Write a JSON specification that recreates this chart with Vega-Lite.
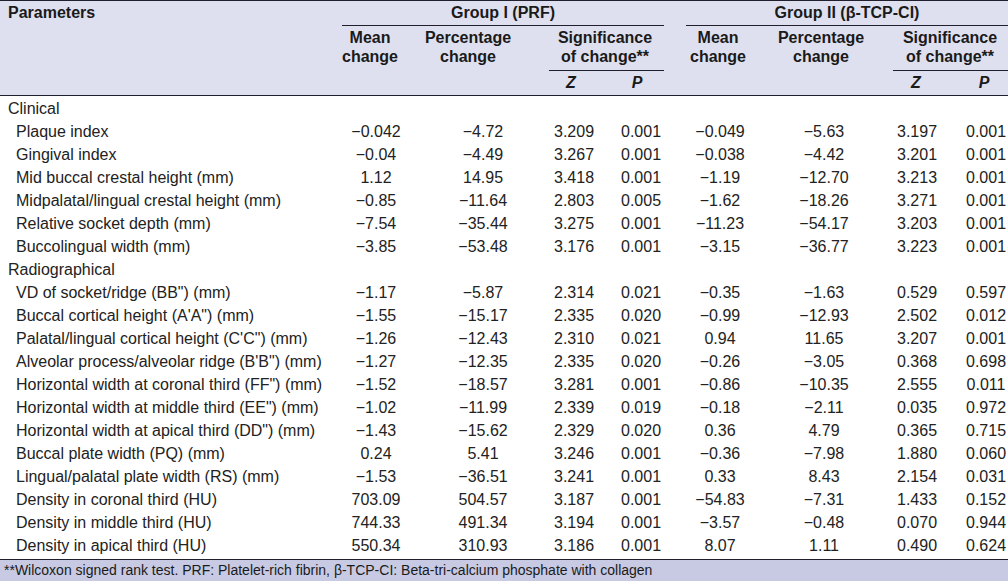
{
  "$schema": "https://vega.github.io/schema/vega-lite/v6.json",
  "padding": 0,
  "background": "#ffffff",
  "spacing": 0,
  "bounds": "full",
  "config": {
    "view": {"stroke": null},
    "concat": {"spacing": 0},
    "text": {"font": "Liberation Sans", "fontSize": 16, "color": "#222222"}
  },
  "datasets": {
    "table": [
      {"param": "Clinical", "level": "category", "g1_mean": "", "g1_pct": "", "g1_z": "", "g1_p": "", "g2_mean": "", "g2_pct": "", "g2_z": "", "g2_p": ""},
      {"param": "Plaque index", "level": "item", "g1_mean": "−0.042", "g1_pct": "−4.72", "g1_z": "3.209", "g1_p": "0.001", "g2_mean": "−0.049", "g2_pct": "−5.63", "g2_z": "3.197", "g2_p": "0.001"},
      {"param": "Gingival index", "level": "item", "g1_mean": "−0.04", "g1_pct": "−4.49", "g1_z": "3.267", "g1_p": "0.001", "g2_mean": "−0.038", "g2_pct": "−4.42", "g2_z": "3.201", "g2_p": "0.001"},
      {"param": "Mid buccal crestal height (mm)", "level": "item", "g1_mean": "1.12", "g1_pct": "14.95", "g1_z": "3.418", "g1_p": "0.001", "g2_mean": "−1.19", "g2_pct": "−12.70", "g2_z": "3.213", "g2_p": "0.001"},
      {"param": "Midpalatal/lingual crestal height (mm)", "level": "item", "g1_mean": "−0.85", "g1_pct": "−11.64", "g1_z": "2.803", "g1_p": "0.005", "g2_mean": "−1.62", "g2_pct": "−18.26", "g2_z": "3.271", "g2_p": "0.001"},
      {"param": "Relative socket depth (mm)", "level": "item", "g1_mean": "−7.54", "g1_pct": "−35.44", "g1_z": "3.275", "g1_p": "0.001", "g2_mean": "−11.23", "g2_pct": "−54.17", "g2_z": "3.203", "g2_p": "0.001"},
      {"param": "Buccolingual width (mm)", "level": "item", "g1_mean": "−3.85", "g1_pct": "−53.48", "g1_z": "3.176", "g1_p": "0.001", "g2_mean": "−3.15", "g2_pct": "−36.77", "g2_z": "3.223", "g2_p": "0.001"},
      {"param": "Radiographical", "level": "category", "g1_mean": "", "g1_pct": "", "g1_z": "", "g1_p": "", "g2_mean": "", "g2_pct": "", "g2_z": "", "g2_p": ""},
      {"param": "VD of socket/ridge (BB\") (mm)", "level": "item", "g1_mean": "−1.17", "g1_pct": "−5.87", "g1_z": "2.314", "g1_p": "0.021", "g2_mean": "−0.35", "g2_pct": "−1.63", "g2_z": "0.529", "g2_p": "0.597"},
      {"param": "Buccal cortical height (A'A\") (mm)", "level": "item", "g1_mean": "−1.55", "g1_pct": "−15.17", "g1_z": "2.335", "g1_p": "0.020", "g2_mean": "−0.99", "g2_pct": "−12.93", "g2_z": "2.502", "g2_p": "0.012"},
      {"param": "Palatal/lingual cortical height (C'C\") (mm)", "level": "item", "g1_mean": "−1.26", "g1_pct": "−12.43", "g1_z": "2.310", "g1_p": "0.021", "g2_mean": "0.94", "g2_pct": "11.65", "g2_z": "3.207", "g2_p": "0.001"},
      {"param": "Alveolar process/alveolar ridge (B'B\") (mm)", "level": "item", "g1_mean": "−1.27", "g1_pct": "−12.35", "g1_z": "2.335", "g1_p": "0.020", "g2_mean": "−0.26", "g2_pct": "−3.05", "g2_z": "0.368", "g2_p": "0.698"},
      {"param": "Horizontal width at coronal third (FF\") (mm)", "level": "item", "g1_mean": "−1.52", "g1_pct": "−18.57", "g1_z": "3.281", "g1_p": "0.001", "g2_mean": "−0.86", "g2_pct": "−10.35", "g2_z": "2.555", "g2_p": "0.011"},
      {"param": "Horizontal width at middle third (EE\") (mm)", "level": "item", "g1_mean": "−1.02", "g1_pct": "−11.99", "g1_z": "2.339", "g1_p": "0.019", "g2_mean": "−0.18", "g2_pct": "−2.11", "g2_z": "0.035", "g2_p": "0.972"},
      {"param": "Horizontal width at apical third (DD\") (mm)", "level": "item", "g1_mean": "−1.43", "g1_pct": "−15.62", "g1_z": "2.329", "g1_p": "0.020", "g2_mean": "0.36", "g2_pct": "4.79", "g2_z": "0.365", "g2_p": "0.715"},
      {"param": "Buccal plate width (PQ) (mm)", "level": "item", "g1_mean": "0.24", "g1_pct": "5.41", "g1_z": "3.246", "g1_p": "0.001", "g2_mean": "−0.36", "g2_pct": "−7.98", "g2_z": "1.880", "g2_p": "0.060"},
      {"param": "Lingual/palatal plate width (RS) (mm)", "level": "item", "g1_mean": "−1.53", "g1_pct": "−36.51", "g1_z": "3.241", "g1_p": "0.001", "g2_mean": "0.33", "g2_pct": "8.43", "g2_z": "2.154", "g2_p": "0.031"},
      {"param": "Density in coronal third (HU)", "level": "item", "g1_mean": "703.09", "g1_pct": "504.57", "g1_z": "3.187", "g1_p": "0.001", "g2_mean": "−54.83", "g2_pct": "−7.31", "g2_z": "1.433", "g2_p": "0.152"},
      {"param": "Density in middle third (HU)", "level": "item", "g1_mean": "744.33", "g1_pct": "491.34", "g1_z": "3.194", "g1_p": "0.001", "g2_mean": "−3.57", "g2_pct": "−0.48", "g2_z": "0.070", "g2_p": "0.944"},
      {"param": "Density in apical third (HU)", "level": "item", "g1_mean": "550.34", "g1_pct": "310.93", "g1_z": "3.186", "g1_p": "0.001", "g2_mean": "8.07", "g2_pct": "1.11", "g2_z": "0.490", "g2_p": "0.624"}
    ]
  },
  "vconcat": [
    {"width": 1008, "height": 1, "view": {"fill": "#1f1f2e", "stroke": null}, "data": {"values": []}, "mark": "text"},
    {"spacing": 0, "bounds": "flush", "hconcat": [
      {"width": 342, "height": 24, "view": {"fill": "#dfe0ef", "stroke": null}, "data": {"values": [{"h": "Parameters"}]},
       "mark": {"type": "text", "fontWeight": "bold", "align": "left", "color": "#1a1a1a"},
       "encoding": {"x": {"field": "h", "type": "nominal", "scale": {"range": [8, 8]}, "axis": null}, "text": {"field": "h", "type": "nominal"}}},
      {"width": 322, "height": 24, "view": {"fill": "#dfe0ef", "stroke": null}, "data": {"values": [{"h": "Group I (PRF)"}]},
       "mark": {"type": "text", "fontWeight": "bold", "color": "#1a1a1a"}, "encoding": {"text": {"field": "h", "type": "nominal"}}},
      {"width": 22, "height": 24, "view": {"fill": "#dfe0ef", "stroke": null}, "data": {"values": []}, "mark": "text"},
      {"width": 322, "height": 24, "view": {"fill": "#dfe0ef", "stroke": null}, "data": {"values": [{"h": "Group II (β-TCP-CI)"}]},
       "mark": {"type": "text", "fontWeight": "bold", "color": "#1a1a1a"}, "encoding": {"text": {"field": "h", "type": "nominal"}}}
    ]},
    {"spacing": 0, "bounds": "flush", "hconcat": [
      {"width": 342, "height": 1, "view": {"fill": "#dfe0ef", "stroke": null}, "data": {"values": []}, "mark": "text"},
      {"width": 322, "height": 1, "view": {"fill": "#1f1f2e", "stroke": null}, "data": {"values": []}, "mark": "text"},
      {"width": 22, "height": 1, "view": {"fill": "#dfe0ef", "stroke": null}, "data": {"values": []}, "mark": "text"},
      {"width": 322, "height": 1, "view": {"fill": "#1f1f2e", "stroke": null}, "data": {"values": []}, "mark": "text"}
    ]},
    {"spacing": 0, "bounds": "flush", "hconcat": [
      {"width": 333, "height": 44, "view": {"fill": "#dfe0ef", "stroke": null}, "data": {"values": []}, "mark": "text"},
      {"width": 74, "height": 44, "view": {"fill": "#dfe0ef", "stroke": null}, "data": {"values": [{"h": "Mean\nchange"}]},
       "mark": {"type": "text", "fontWeight": "bold", "color": "#1a1a1a", "lineBreak": "\n", "lineHeight": 19, "baseline": "line-bottom"}, "encoding": {"text": {"field": "h", "type": "nominal"}}},
      {"width": 122, "height": 44, "view": {"fill": "#dfe0ef", "stroke": null}, "data": {"values": [{"h": "Percentage\nchange"}]},
       "mark": {"type": "text", "fontWeight": "bold", "color": "#1a1a1a", "lineBreak": "\n", "lineHeight": 19, "baseline": "line-bottom"}, "encoding": {"text": {"field": "h", "type": "nominal"}}},
      {"width": 152, "height": 44, "view": {"fill": "#dfe0ef", "stroke": null}, "data": {"values": [{"h": "Significance\nof change**"}]},
       "mark": {"type": "text", "fontWeight": "bold", "color": "#1a1a1a", "lineBreak": "\n", "lineHeight": 19, "baseline": "line-bottom"}, "encoding": {"text": {"field": "h", "type": "nominal"}}},
      {"width": 74, "height": 44, "view": {"fill": "#dfe0ef", "stroke": null}, "data": {"values": [{"h": "Mean\nchange"}]},
       "mark": {"type": "text", "fontWeight": "bold", "color": "#1a1a1a", "lineBreak": "\n", "lineHeight": 19, "baseline": "line-bottom"}, "encoding": {"text": {"field": "h", "type": "nominal"}}},
      {"width": 132, "height": 44, "view": {"fill": "#dfe0ef", "stroke": null}, "data": {"values": [{"h": "Percentage\nchange"}]},
       "mark": {"type": "text", "fontWeight": "bold", "color": "#1a1a1a", "lineBreak": "\n", "lineHeight": 19, "baseline": "line-bottom"}, "encoding": {"text": {"field": "h", "type": "nominal"}}},
      {"width": 5, "height": 44, "view": {"fill": "#dfe0ef", "stroke": null}, "data": {"values": []}, "mark": "text"},
      {"width": 116, "height": 44, "view": {"fill": "#dfe0ef", "stroke": null}, "data": {"values": [{"h": "Significance\nof change**"}]},
       "mark": {"type": "text", "fontWeight": "bold", "color": "#1a1a1a", "lineBreak": "\n", "lineHeight": 19, "baseline": "line-bottom"}, "encoding": {"text": {"field": "h", "type": "nominal"}}}
    ]},
    {"spacing": 0, "bounds": "flush", "hconcat": [
      {"width": 549, "height": 1, "view": {"fill": "#dfe0ef", "stroke": null}, "data": {"values": []}, "mark": "text"},
      {"width": 115, "height": 1, "view": {"fill": "#1f1f2e", "stroke": null}, "data": {"values": []}, "mark": "text"},
      {"width": 229, "height": 1, "view": {"fill": "#dfe0ef", "stroke": null}, "data": {"values": []}, "mark": "text"},
      {"width": 115, "height": 1, "view": {"fill": "#1f1f2e", "stroke": null}, "data": {"values": []}, "mark": "text"}
    ]},
    {"spacing": 0, "bounds": "flush", "hconcat": [
      {"width": 549, "height": 24, "view": {"fill": "#dfe0ef", "stroke": null}, "data": {"values": []}, "mark": "text"},
      {"width": 44, "height": 24, "view": {"fill": "#dfe0ef", "stroke": null}, "data": {"values": [{"h": "Z"}]},
       "mark": {"type": "text", "fontWeight": "bold", "fontStyle": "italic", "color": "#1a1a1a"}, "encoding": {"text": {"field": "h", "type": "nominal"}}},
      {"width": 88, "height": 24, "view": {"fill": "#dfe0ef", "stroke": null}, "data": {"values": [{"h": "P"}]},
       "mark": {"type": "text", "fontWeight": "bold", "fontStyle": "italic", "color": "#1a1a1a"}, "encoding": {"text": {"field": "h", "type": "nominal"}}},
      {"width": 191, "height": 24, "view": {"fill": "#dfe0ef", "stroke": null}, "data": {"values": []}, "mark": "text"},
      {"width": 88, "height": 24, "view": {"fill": "#dfe0ef", "stroke": null}, "data": {"values": [{"h": "Z"}]},
       "mark": {"type": "text", "fontWeight": "bold", "fontStyle": "italic", "color": "#1a1a1a"}, "encoding": {"text": {"field": "h", "type": "nominal"}}},
      {"width": 48, "height": 24, "view": {"fill": "#dfe0ef", "stroke": null}, "data": {"values": [{"h": "P"}]},
       "mark": {"type": "text", "fontWeight": "bold", "fontStyle": "italic", "color": "#1a1a1a"}, "encoding": {"text": {"field": "h", "type": "nominal"}}}
    ]},
    {"width": 1008, "height": 1, "view": {"fill": "#1f1f2e", "stroke": null}, "data": {"values": []}, "mark": "text"},
    {"spacing": 0, "bounds": "flush", "hconcat": [
      {"width": 310, "height": 463, "data": {"name": "table"}, "mark": {"type": "text", "align": "left"},
       "encoding": {
         "x": {"field": "level", "type": "nominal", "scale": {"domain": ["category", "item"], "range": [8, 16], "padding": 0}, "axis": null},
         "y": {"field": "param", "type": "nominal", "sort": null, "scale": {"type": "point", "padding": 0.565}, "axis": null},
         "text": {"field": "param", "type": "nominal"}}},
      {"width": 132, "height": 463, "data": {"name": "table"}, "mark": "text",
       "encoding": {"y": {"field": "param", "type": "nominal", "sort": null, "scale": {"type": "point", "padding": 0.565}, "axis": null}, "text": {"field": "g1_mean", "type": "nominal"}}},
      {"width": 82, "height": 463, "data": {"name": "table"}, "mark": "text",
       "encoding": {"y": {"field": "param", "type": "nominal", "sort": null, "scale": {"type": "point", "padding": 0.565}, "axis": null}, "text": {"field": "g1_pct", "type": "nominal"}}},
      {"width": 100, "height": 463, "data": {"name": "table"}, "mark": "text",
       "encoding": {"y": {"field": "param", "type": "nominal", "sort": null, "scale": {"type": "point", "padding": 0.565}, "axis": null}, "text": {"field": "g1_z", "type": "nominal"}}},
      {"width": 34, "height": 463, "data": {"name": "table"}, "mark": "text",
       "encoding": {"y": {"field": "param", "type": "nominal", "sort": null, "scale": {"type": "point", "padding": 0.565}, "axis": null}, "text": {"field": "g1_p", "type": "nominal"}}},
      {"width": 124, "height": 463, "data": {"name": "table"}, "mark": "text",
       "encoding": {"y": {"field": "param", "type": "nominal", "sort": null, "scale": {"type": "point", "padding": 0.565}, "axis": null}, "text": {"field": "g2_mean", "type": "nominal"}}},
      {"width": 84, "height": 463, "data": {"name": "table"}, "mark": "text",
       "encoding": {"y": {"field": "param", "type": "nominal", "sort": null, "scale": {"type": "point", "padding": 0.565}, "axis": null}, "text": {"field": "g2_pct", "type": "nominal"}}},
      {"width": 102, "height": 463, "data": {"name": "table"}, "mark": "text",
       "encoding": {"y": {"field": "param", "type": "nominal", "sort": null, "scale": {"type": "point", "padding": 0.565}, "axis": null}, "text": {"field": "g2_z", "type": "nominal"}}},
      {"width": 36, "height": 463, "data": {"name": "table"}, "mark": "text",
       "encoding": {"y": {"field": "param", "type": "nominal", "sort": null, "scale": {"type": "point", "padding": 0.565}, "axis": null}, "text": {"field": "g2_p", "type": "nominal"}}}
    ]},
    {"width": 1008, "height": 1, "view": {"fill": "#1f1f2e", "stroke": null}, "data": {"values": []}, "mark": "text"},
    {"width": 1008, "height": 21, "view": {"fill": "#c8cae3", "stroke": null},
     "data": {"values": [{"note": "**Wilcoxon signed rank test. PRF: Platelet-rich fibrin, β-TCP-CI: Beta-tri-calcium phosphate with collagen"}]},
     "mark": {"type": "text", "align": "left", "fontSize": 14, "color": "#1a1a1a"},
     "encoding": {"x": {"field": "note", "type": "nominal", "scale": {"range": [4, 4]}, "axis": null}, "text": {"field": "note", "type": "nominal"}}}
  ]
}
